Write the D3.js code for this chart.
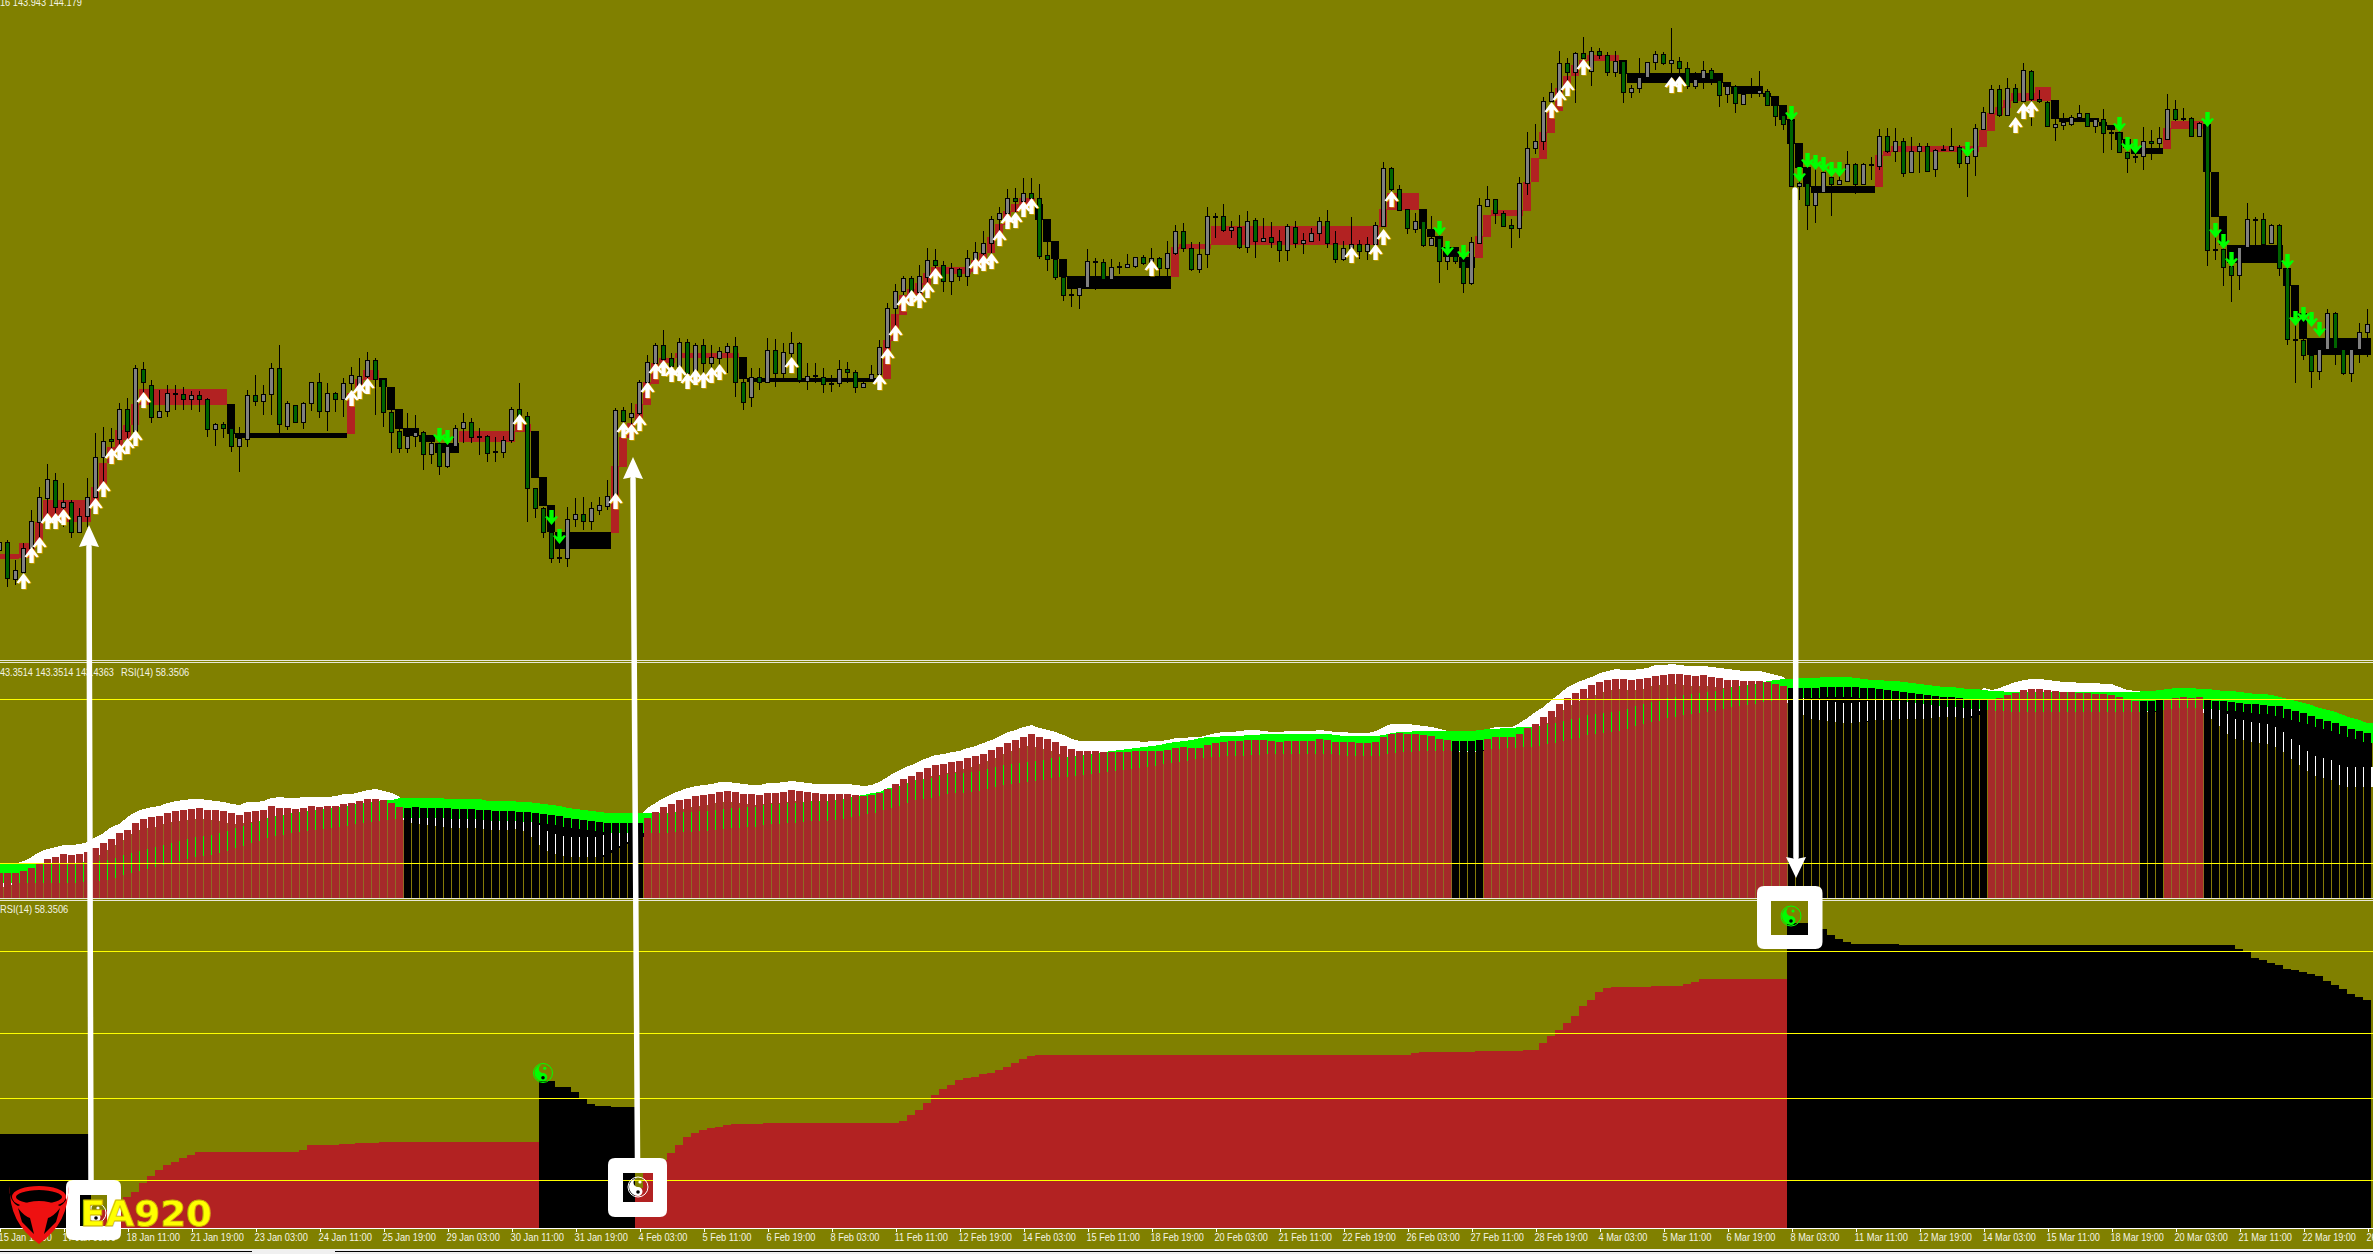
<!DOCTYPE html>
<html><head><meta charset="utf-8">
<script src="https://cdn.jsdelivr.net/npm/d3@7"></script>
<style>html,body{margin:0;padding:0;background:#808000;overflow:hidden}svg{display:block}text{font-family:"Liberation Sans",sans-serif}</style>
</head><body><svg id="c" width="2373" height="1254"></svg>
<script>
// Prices are hundredths above 140.00
const opens=[200,208,171,178,202,228,252,270,243,248,
218,234,253,293,311,311,341,319,381,365,
333,339,357,356,351,355,351,321,326,322,
304,311,355,349,356,382,324,345,328,347,
368,339,357,351,367,365,374,390,371,338,
319,302,314,318,296,307,284,304,322,328,
313,314,299,298,310,341,334,262,242,218,
193,192,231,236,229,240,244,254,340,333,
337,368,387,405,392,384,408,377,405,387,
392,398,404,368,353,373,368,400,377,397,
407,369,375,373,367,367,381,378,363,371,
376,403,442,459,472,458,473,490,485,469,
481,474,491,497,507,531,537,552,549,557,
552,495,491,473,456,455,463,489,488,471,
484,483,484,493,488,492,482,497,519,502,
481,496,534,534,520,523,503,530,509,513,
509,500,523,507,509,517,529,507,491,502,
506,499,506,524,582,561,541,521,529,505,
512,489,494,489,467,507,544,551,537,525,
522,567,602,609,649,658,687,678,697,679,
699,695,678,689,658,662,673,688,696,687,
689,682,664,672,680,670,656,664,646,659,
657,659,645,635,630,564,567,545,558,573,
566,569,586,566,586,584,614,599,609,578,
599,604,581,601,600,603,587,594,621,637,
661,635,662,649,679,651,648,623,625,626,
633,637,624,631,618,618,598,594,594,609,
607,611,641,632,632,614,626,501,501,484,
475,503,531,531,507,525,482,411,410,395,
379,401,437,401,377,401,418];
const closes=[208,172,180,202,229,253,271,243,248,218,
234,253,293,309,309,341,319,382,368,333,
339,357,356,351,355,351,321,326,322,304,
312,355,349,356,382,326,347,328,347,368,
339,357,351,367,375,374,390,371,338,318,
302,314,318,296,307,284,304,322,328,313,
314,297,298,310,341,334,262,242,218,192,
192,231,236,229,242,245,254,340,329,337,
368,388,405,391,384,408,377,405,387,393,
399,404,368,348,373,368,400,377,398,407,
370,374,374,366,366,381,378,363,367,376,
403,442,459,472,458,474,490,485,469,482,
474,492,498,507,531,537,552,549,557,552,
494,491,473,455,455,463,489,488,471,483,
483,486,493,487,492,482,497,519,502,481,
496,534,533,520,523,503,529,509,512,508,
500,524,507,510,517,529,507,491,502,506,
499,506,525,582,561,540,522,529,505,512,
489,494,489,467,508,545,551,537,524,522,
567,602,609,649,658,687,678,697,692,699,
695,678,689,658,662,673,688,696,687,690,
682,664,671,680,671,655,664,647,656,658,
660,645,634,626,564,567,545,558,578,566,
570,586,566,586,585,614,599,609,577,599,
604,579,600,600,604,587,594,622,638,661,
635,662,648,680,651,649,624,626,628,633,
637,624,631,617,617,598,592,593,609,607,
612,641,631,631,614,627,500,500,483,475,
503,531,530,506,525,482,411,410,395,379,
401,437,402,377,401,418,426];
const highs=[210,210,190,207,240,263,286,277,267,250,
242,272,317,323,322,347,352,385,388,370,
360,365,365,363,359,359,352,327,328,323,
323,360,375,365,387,405,349,345,348,368,
377,367,358,372,383,392,398,392,372,340,
340,337,335,319,310,318,310,325,337,332,
322,315,313,314,343,367,338,262,243,220,
217,243,252,253,248,253,270,342,343,347,
370,395,407,420,397,412,411,407,411,405,
403,407,413,372,382,382,412,411,407,418,
408,387,387,382,375,390,388,380,368,385,
410,447,466,474,474,485,502,501,489,487,
482,500,508,519,534,543,561,562,572,572,
566,508,492,475,465,474,501,492,491,491,
488,496,493,495,502,493,509,525,527,508,
508,543,537,546,529,535,539,532,532,528,
520,526,529,517,522,533,540,519,509,533,
510,513,528,588,583,565,541,537,530,534,
518,503,498,497,513,552,564,551,539,531,
573,618,626,653,667,699,692,698,713,703,
702,698,699,689,665,692,688,699,698,722,
693,688,678,689,682,672,668,665,664,672,
679,661,652,637,642,582,594,591,590,585,
583,599,587,587,593,621,622,622,612,613,
607,607,601,605,622,605,602,626,643,665,
665,672,666,687,680,660,649,635,637,635,
645,637,632,641,623,623,602,602,623,620,
623,656,650,642,633,628,635,517,510,492,
503,547,533,537,526,526,487,433,413,403,
405,441,438,402,402,427,441];
const lows=[197,163,165,163,190,203,233,223,223,212,
217,223,240,255,288,293,307,310,353,327,
333,333,340,340,340,338,313,304,312,298,
278,303,344,335,335,317,320,327,321,339,
332,319,338,333,353,350,365,335,323,297,
297,297,303,280,286,275,282,302,307,307,
295,288,288,292,307,323,228,232,212,187,
187,183,223,220,220,235,240,243,320,320,
323,357,373,382,370,370,363,368,370,367,
372,377,353,340,343,360,368,363,372,380,
367,360,367,357,358,363,367,357,362,370,
365,387,413,443,447,447,457,470,458,455,
469,464,480,482,483,510,525,525,538,538,
491,479,470,449,443,441,463,460,470,470,
476,483,482,485,478,473,473,495,498,479,
477,482,512,518,512,501,497,492,508,502,
488,489,502,496,508,509,502,487,489,491,
491,490,494,523,547,539,516,517,503,504,
467,480,486,457,465,506,544,526,523,502,
512,555,596,600,638,648,660,647,680,664,
691,674,673,647,652,657,673,680,685,672,
671,661,661,661,665,643,647,637,645,652,
653,644,624,620,563,550,520,527,557,534,
565,568,556,565,570,580,597,588,573,577,
577,578,573,599,599,582,553,574,620,636,
633,635,647,648,624,647,623,609,620,624,
633,623,617,597,600,597,577,587,580,590,
598,610,629,629,613,613,484,490,464,448,
460,503,505,505,506,474,405,367,390,362,
370,400,385,375,368,387,393];
// Step channel: [first bar, last bar, upper, lower, 1 = bull / 0 = bear]
const bandRuns=[[0,2,196,191,1],[3,4,207,192,1],[5,5,228,207,1],[6,11,250,228,1],[12,12,263,243,1],[13,13,287,263,1],[14,14,303,287,1],[15,15,320,297,1],[16,16,325,310,1],[17,17,346,325,1],[18,28,361,345,1],
[29,29,346,316,0],[30,43,317,312,0],[44,44,357,316,1],[45,45,371,357,1],[46,47,380,370,1],[48,48,372,363,0],[49,49,363,340,0],[50,50,341,321,0],[51,52,322,314,0],[53,54,315,308,0],[55,57,307,297,0],
[58,64,319,308,1],[65,66,326,318,1],[67,67,319,272,0],[68,68,273,244,0],[69,69,245,218,0],[70,76,218,201,0],[77,77,284,217,1],[78,78,313,283,1],[79,79,327,312,1],[80,80,346,327,1],[81,81,368,345,1],[82,82,387,366,1],[83,84,392,387,1],[85,92,397,392,1],
[93,93,393,371,0],[94,110,372,368,0],[111,111,410,371,1],[112,112,436,409,1],[113,113,455,435,1],[114,114,461,448,1],[115,115,467,455,1],[116,116,477,465,1],[117,121,483,476,1],[122,122,490,478,1],[123,123,497,482,1],[124,124,513,497,1],[125,125,526,512,1],[126,126,539,525,1],[127,127,546,538,1],[128,129,552,545,1],
[130,130,546,530,0],[131,131,531,508,0],[132,132,509,491,0],[133,133,491,473,0],[134,146,474,461,0],[147,147,503,473,1],[148,151,506,501,1],[152,172,524,505,1],[173,173,541,523,1],[174,177,557,540,1],
[178,178,541,521,0],[179,179,521,513,0],[180,180,514,503,0],[181,182,503,493,0],[183,184,493,482,0],[185,185,514,492,1],[186,186,535,513,1],[187,190,540,534,1],[191,191,568,539,1],[192,192,592,568,1],[193,193,618,591,1],[194,194,639,617,1],[195,195,662,639,1],[196,196,674,660,1],[197,197,685,674,1],[198,198,690,685,1],[199,202,695,689,1],
[203,203,690,676,0],[204,215,677,667,0],[216,216,668,663,0],[217,220,664,656,0],[221,221,657,653,0],[222,222,654,644,0],[223,223,645,630,0],[224,224,631,606,0],[225,225,607,582,0],[226,226,583,563,0],[227,234,564,557,0],
[235,235,595,563,1],[236,236,599,594,1],[237,247,604,598,1],[248,248,620,603,1],[249,249,637,619,1],[250,250,643,635,1],[251,251,650,642,1],[252,254,657,649,1],[255,256,663,649,1],
[257,257,650,631,0],[258,262,632,628,0],[263,263,628,624,0],[264,264,625,620,0],[265,265,618,610,0],[266,266,611,602,0],[267,270,602,596,0],[271,271,622,601,1],[272,275,629,621,1],
[276,276,626,578,0],[277,277,578,533,0],[278,278,534,505,0],[279,285,505,487,0],[286,286,482,464,0],[287,287,465,433,0],[288,288,437,411,0],[289,296,412,395,0]];
// Arrow signals: bar index and price at the arrow tip
const upArrowBars=[3,4,5,6,7,8,12,13,14,15,16,17,18,44,45,46,65,77,78,79,80,81,82,83,84,85,86,87,88,89,90,99,110,111,112,113,114,115,116,117,122,123,124,125,126,127,128,129,144,169,172,173,174,194,195,196,198,209,210,252,253,254];
const upArrowTips=[177,203,213,237,237,241,252,269,302,306,312,320,358,360,367,372,336,257,328,326,335,368,387,390,384,385,377,381,378,383,386,393,376,402,425,455,460,458,468,482,492,495,497,520,537,538,549,552,490,503,506,521,559,648,660,670,691,673,674,633,647,649];
const downArrowBars=[55,56,69,70,180,181,183,224,225,226,227,228,229,230,246,265,266,267,276,277,278,279,286,287,288,289,290];
const downArrowTips=[307,305,225,206,514,494,490,629,568,582,580,578,573,573,593,618,598,596,623,512,501,483,481,424,428,423,413];
// Oscillator pane, heights above the pane floor
const whiteLine=[30,32,34,37,41,46,49,51,53,53,
54,56,61,65,71,74,81,86,89,91,
92,95,97,98,99,99,98,97,96,94,
93,96,96,97,100,101,100,100,101,101,
101,101,102,104,104,106,108,109,107,105,
101,95,94,93,92,91,90,90,90,90,
89,88,88,88,89,89,86,76,70,65,
63,61,61,61,61,61,65,70,74,78,
81,90,95,100,104,107,110,112,113,114,
116,116,115,114,113,113,115,115,116,117,
116,115,114,114,114,114,114,113,112,113,
116,121,126,130,133,137,140,143,144,146,
147,150,152,155,158,162,166,168,171,173,
170,168,166,163,159,157,157,157,157,157,
157,157,157,156,157,157,158,160,160,161,
161,163,165,166,166,167,168,168,167,166,
166,167,167,167,167,168,167,166,166,165,
165,165,167,171,174,174,174,173,172,171,
169,167,166,166,166,167,169,171,171,171,
175,180,186,191,198,204,211,215,218,221,
225,227,229,228,228,229,230,233,233,234,
233,232,232,232,231,230,229,228,227,227,
227,225,223,221,210,205,201,198,197,196,
195,195,196,196,198,198,198,199,199,199,
199,200,201,201,201,200,200,203,210,208,
210,213,216,218,219,219,218,217,216,216,
215,215,215,214,214,211,208,207,206,206,
208,209,210,210,210,209,202,196,188,181,
178,177,175,175,173,170,163,156,150,145,
140,140,136,131,131,131,131];
const greenLine=[35,35,35,35,35,35,35,35,35,35,
36,37,37,38,39,41,44,46,48,50,
52,54,56,58,60,62,63,64,66,68,
71,73,76,78,81,83,84,86,87,88,
89,90,91,92,93,95,96,97,98,98,
100,100,100,100,100,100,99,99,99,99,
99,97,97,97,97,96,96,95,94,93,
92,90,89,88,87,86,85,85,85,85,
85,85,85,85,86,86,86,87,87,88,
89,90,90,91,91,92,94,94,95,95,
96,97,97,97,98,99,100,102,103,105,
106,110,111,113,116,119,119,121,123,125,
125,126,127,128,130,132,134,135,136,137,
138,139,141,141,142,143,144,145,146,147,
148,149,150,151,152,153,155,156,157,158,
160,161,161,162,162,162,163,163,164,164,
164,164,164,164,164,164,164,163,162,162,
162,162,162,163,165,166,166,167,167,167,
167,167,167,167,167,168,169,169,170,170,
171,171,172,173,175,176,178,180,181,184,
185,186,187,188,190,193,195,197,198,201,
202,204,205,206,207,208,210,212,213,214,
215,217,218,219,219,220,220,220,221,221,
221,221,220,219,218,218,217,217,216,215,
214,213,212,211,211,210,209,209,208,207,
207,206,206,206,206,206,206,206,206,206,
206,206,206,206,206,206,206,206,207,207,
208,209,210,210,210,209,209,208,207,207,
206,205,204,204,203,201,199,197,195,193,
190,188,186,183,180,178,175];
const histValues=[25,25,25,27,30,35,39,41,44,43,
44,46,50,55,59,65,68,75,79,81,
82,85,87,88,89,90,88,88,87,85,
83,86,87,88,92,90,90,89,90,92,
91,92,92,94,95,97,99,99,98,95,
91,90,91,90,90,90,90,89,89,89,
88,88,87,87,87,86,86,85,84,83,
82,80,79,78,77,76,75,75,75,75,
75,80,86,91,94,98,99,102,103,104,
106,107,106,104,104,103,105,105,106,108,
107,106,105,104,104,104,104,103,102,103,
105,109,114,119,122,126,130,133,134,136,
137,140,142,144,148,151,155,158,161,164,
161,159,156,152,149,147,147,147,146,146,
146,146,147,147,147,147,148,150,151,150,
150,153,155,156,157,157,158,158,158,157,
156,157,157,157,157,159,158,156,156,156,
155,155,156,161,164,165,164,164,163,162,
159,158,157,157,157,158,159,161,161,161,
164,170,174,181,187,194,200,205,209,213,
216,218,219,219,218,219,220,222,223,224,
224,223,222,223,221,220,218,218,217,217,
217,216,214,212,210,210,210,210,211,211,
211,211,211,210,210,209,208,207,206,205,
204,203,202,201,201,200,199,199,199,199,
200,203,205,208,209,209,208,207,206,206,
205,205,204,204,203,201,198,197,197,197,
198,198,200,201,200,201,198,197,197,196,
195,194,194,193,192,192,189,187,185,182,
179,177,175,172,169,167,165];
const histBearRuns=[[51,80],[182,185],[224,248],[268,270],[276,296]];
const oscLevels=[35,199];
// Lower pane: [first bar, last bar, value]
const areaSteps=[[0,11,94],[12,12,14],[13,13,18],[14,14,22],[15,15,26],[16,16,31],[17,17,36],[18,18,45],[19,19,52],[20,20,58],[21,21,63],[22,22,66],[23,23,70],[24,24,73],[25,37,76],[38,38,78],[39,42,83],[43,44,84],[45,47,85],[48,67,86],
[68,69,147],[70,71,141],[72,72,136],[73,73,129],[74,74,124],[75,76,122],[77,79,121],
[80,80,40],[81,81,55],[82,82,62],[83,83,68],[84,84,75],[85,85,83],[86,86,91],[87,87,95],[88,88,98],[89,89,100],[90,90,101],[91,91,103],[92,95,104],[96,112,105],[113,113,107],[114,114,113],[115,115,118],[116,116,125],[117,117,133],[118,118,139],[119,119,143],[120,120,148],[121,121,150],[122,122,151],[123,123,154],[124,124,155],[125,125,158],[126,126,161],[127,127,165],[128,128,169],[129,129,172],[130,176,173],[177,177,175],[178,184,176],[185,190,177],[191,192,178],[193,193,185],[194,194,192],[195,195,198],[196,196,205],[197,197,212],[198,198,222],[199,199,228],[200,200,236],[201,201,240],[202,206,241],[207,210,242],[211,211,244],[212,212,246],[213,223,249],
[224,226,305],[227,227,304],[228,228,299],[229,229,293],[230,230,289],[231,231,286],[232,237,284],[238,279,283],[280,280,279],[281,281,276],[282,282,270],[283,283,268],[284,284,265],[285,285,263],[286,286,259],[287,287,258],[288,288,256],[289,289,254],[290,290,252],[291,291,247],[292,292,243],[293,293,239],[294,294,234],[295,295,231],[296,296,228]];
const areaBearRuns=[[0,11],[68,79],[224,296]];
const areaLevels=[277,195,130,48];
const tickLabels=["15 Jan 19:00","17 Jan 03:00","18 Jan 11:00","21 Jan 19:00","23 Jan 03:00","24 Jan 11:00","25 Jan 19:00","29 Jan 03:00","30 Jan 11:00","31 Jan 19:00","4 Feb 03:00","5 Feb 11:00","6 Feb 19:00","8 Feb 03:00","11 Feb 11:00","12 Feb 19:00","14 Feb 03:00","15 Feb 11:00","18 Feb 19:00","20 Feb 03:00","21 Feb 11:00","22 Feb 19:00","26 Feb 03:00","27 Feb 11:00","28 Feb 19:00","4 Mar 03:00","5 Mar 11:00","6 Mar 19:00","8 Mar 03:00","11 Mar 11:00","12 Mar 19:00","14 Mar 03:00","15 Mar 11:00","18 Mar 19:00","20 Mar 03:00","21 Mar 11:00","22 Mar 19:00","26 Mar 03:00"];
const tickBars=[0,8,16,24,32,40,48,56,64,72,80,88,96,104,112,120,128,136,144,152,160,168,176,184,192,200,208,216,224,232,240,248,256,264,272,280,288,296];

const OLIVE="#808000",RED="#b22222",BROWN="#a52a2a",LIME="#00ff00",YEL="#ffff00";
const svg=d3.select("#c");
const bars=d3.range(opens.length);
const x=d3.scaleLinear().domain([0,296]).range([-0.5,2367.5]);
const yP=d3.scaleLinear().domain([0,750]).range([750,0]);
const yO=d3.scaleLinear().domain([0,234]).range([898,664]);
const yA=d3.scaleLinear().domain([0,306]).range([1228,922]);
const inRuns=(runs,i)=>runs.some(r=>i>=r[0]&&i<=r[1]);
const LINE_W=20; // ribbon thickness in pane units
const CHAR_W=4.45; // terminal font advance

svg.append("rect").attr("width",2373).attr("height",1254).attr("fill",OLIVE);

// ---- price pane
const gP=svg.append("g");
gP.append("g").attr("shape-rendering","crispEdges").selectAll("rect").data(bandRuns).join("rect")
 .attr("x",d=>x(d[0])-4.5).attr("width",d=>x(d[1])-x(d[0])+8)
 .attr("y",d=>yP(d[2])).attr("height",d=>yP(d[3])-yP(d[2]))
 .attr("fill",d=>d[4]?RED:"#000");
gP.append("g").attr("shape-rendering","crispEdges").attr("stroke","#000").selectAll("line").data(bars).join("line")
 .attr("x1",i=>x(i)).attr("x2",i=>x(i)).attr("y1",i=>yP(highs[i])).attr("y2",i=>yP(lows[i]));
gP.append("g").attr("shape-rendering","crispEdges").attr("stroke","#000").selectAll("rect").data(bars).join("rect")
 .attr("x",i=>x(i)-2).attr("width",4)
 .attr("y",i=>Math.round(yP(Math.max(opens[i],closes[i])))+0.5)
 .attr("height",i=>Math.max(1,Math.round(Math.abs(opens[i]-closes[i]))))
 .attr("fill",i=>closes[i]>opens[i]?"#808080":"#006400");
const upShape="M0,0L7,9.5L5,10.5L2.2,7.5L2.2,16L-2.2,16L-2.2,7.5L-5,10.5L-7,9.5Z";
const dnShape="M0,0L6.5,-8L4.5,-9L2.2,-7L2.2,-15L-2.2,-15L-2.2,-7L-4.5,-9L-6.5,-8Z";
const gArr=gP.append("g");
gArr.selectAll(".us").data(upArrowBars).join("path").attr("class","us").attr("d",upShape).attr("fill","#e8b000")
 .attr("transform",(d,k)=>`translate(${x(d)+1},${yP(upArrowTips[k])+0.5})`);
gArr.selectAll(".u").data(upArrowBars).join("path").attr("class","u").attr("d",upShape).attr("fill","#fff")
 .attr("transform",(d,k)=>`translate(${x(d)},${yP(upArrowTips[k])})`);
gArr.selectAll(".d").data(downArrowBars).join("path").attr("class","d").attr("d",dnShape).attr("fill",LIME)
 .attr("transform",(d,k)=>`translate(${x(d)},${yP(downArrowTips[k])})`);

// ---- separators
svg.append("g").attr("shape-rendering","crispEdges").selectAll("rect").data([660,662,898,900]).join("rect")
 .attr("x",0).attr("width",2373).attr("y",d=>d).attr("height",1).attr("fill","#e8e8d8");

// ---- oscillator pane
const gO=svg.append("g");
const gapX=i=>x(i)+3.5;
const gg=gO.append("g").attr("shape-rendering","crispEdges");
gg.selectAll(".gapBase").data(bars).join("rect").attr("class","gapBase")
 .attr("x",gapX).attr("width",1).attr("y",i=>yO(histValues[i])).attr("height",i=>898-yO(histValues[i]))
 .attr("fill",i=>inRuns(histBearRuns,i)?"#857a08":"#8f6a24");
gg.selectAll(".gapDark").data(bars.filter(i=>inRuns(histBearRuns,i))).join("rect").attr("class","gapDark")
 .attr("x",gapX).attr("width",1).attr("y",i=>yO(histValues[i])).attr("height",i=>Math.max(0,yO(whiteLine[i]-LINE_W)-yO(histValues[i])))
 .attr("fill","#000");
// thick indicator lines run from bar to bar, continuing flat past the last bar
const ribbonAt=vals=>d3.area().x(d=>d.px).y1(d=>yO(d.v)).y0(d=>yO(d.v-LINE_W))(
 bars.map(i=>({px:x(i),v:vals[i]})).concat([{px:2373,v:vals[vals.length-1]}]));
gO.append("path").attr("shape-rendering","crispEdges").attr("fill","#fff").attr("d",ribbonAt(whiteLine));
gO.append("path").attr("shape-rendering","crispEdges").attr("fill",LIME).attr("d",ribbonAt(greenLine));
gO.append("g").attr("shape-rendering","crispEdges").selectAll("rect").data(bars).join("rect")
 .attr("x",i=>x(i)-3.5).attr("width",7).attr("y",i=>yO(histValues[i])).attr("height",i=>898-yO(histValues[i]))
 .attr("fill",i=>inRuns(histBearRuns,i)?"#000":BROWN);
gO.append("g").attr("shape-rendering","crispEdges").selectAll("rect").data(oscLevels).join("rect")
 .attr("x",0).attr("width",2373).attr("y",d=>Math.round(yO(d))).attr("height",1).attr("fill",YEL);

// ---- lower pane
const areaBars=areaSteps.flatMap(s=>d3.range(s[0],s[1]+1).map(i=>({i,v:s[2]})));
const gA=svg.append("g").attr("shape-rendering","crispEdges");
gA.selectAll(".a").data(areaBars).join("rect").attr("class","a")
 .attr("x",d=>x(d.i)-4.5).attr("width",8).attr("y",d=>yA(d.v)).attr("height",d=>1228-yA(d.v))
 .attr("fill",d=>inRuns(areaBearRuns,d.i)?"#000":RED);
gA.selectAll(".l").data(areaLevels).join("rect").attr("class","l")
 .attr("x",0).attr("width",2373).attr("y",d=>Math.round(yA(d))).attr("height",1).attr("fill",YEL);

// ---- time axis
const axis=d3.axisBottom(x).tickValues(tickBars).tickFormat((d,k)=>tickLabels[k]).tickSize(4).tickPadding(1);
const gX=svg.append("g").attr("transform","translate(0,1228)").call(axis);
gX.select(".domain").remove();
gX.selectAll("line").attr("stroke","#fff").attr("shape-rendering","crispEdges");
gX.selectAll("text").attr("fill","#f4f4e4").attr("text-anchor","start").attr("dx",-1.5)
 .style("font-family",'"Liberation Sans",sans-serif').style("font-size","11px")
 .attr("textLength",(d,k)=>tickLabels[k].length*CHAR_W).attr("lengthAdjust","spacingAndGlyphs");
svg.append("rect").attr("x",0).attr("y",1228).attr("width",2373).attr("height",1).attr("fill","#fff").attr("shape-rendering","crispEdges");
svg.append("rect").attr("x",0).attr("y",1249).attr("width",2373).attr("height",5).attr("fill","#f0f0f0");
svg.append("g").attr("shape-rendering","crispEdges").selectAll("rect").data([[0,252],[335,2038]]).join("rect")
 .attr("x",d=>d[0]).attr("width",d=>d[1]).attr("y",1251).attr("height",1).attr("fill","#000");

// ---- pane captions
const captions=[["16 143.943 144.179",0,6],["43.3514 143.3514 143.4363",0,676],["RSI(14) 58.3506",121,676],["RSI(14) 58.3506",0,913]];
svg.append("g").selectAll("text").data(captions).join("text")
 .attr("x",d=>d[1]).attr("y",d=>d[2]).attr("fill","#f4f4e4").style("font-size","11px")
 .attr("textLength",d=>d[0].length*4.55).attr("lengthAdjust","spacingAndGlyphs").text(d=>d[0]);

// ---- annotations
const annotArrows=[
 {x1:91,y1:1180,x2:89,y2:547,tipY:525,up:true},
 {x1:637.5,y1:1158,x2:633,y2:479,tipY:457,up:true},
 {x1:1795,y1:190,x2:1796,y2:857,tipY:878,up:false}];
const gN=svg.append("g");
gN.selectAll("line").data(annotArrows).join("line")
 .attr("x1",d=>d.x1).attr("y1",d=>d.y1).attr("x2",d=>d.x2).attr("y2",d=>d.y2)
 .attr("stroke","#fff").attr("stroke-width",5.5).attr("stroke-linecap","round");
gN.selectAll("path").data(annotArrows).join("path").attr("fill","#fff")
 .attr("d",d=>`M${d.x2},${d.tipY}L${d.x2+10},${d.y2}L${d.x2},${d.y2+(d.up?-2:2)}L${d.x2-10},${d.y2}Z`);

const frames=[
 {x:66,y:1180,w:55,h:60,ix:80,iy:1195,iw:27,ih:31},
 {x:608,y:1158,w:59,h:59,ix:623,iy:1173,iw:30,ih:29},
 {x:1757,y:886,w:65.5,h:63,ix:1771,iy:901,iw:37,ih:34}];
svg.append("g").selectAll("path").data(frames).join("path").attr("fill","#fff").attr("fill-rule","evenodd")
 .attr("d",f=>{const r=7,{x:a,y:b,w,h}=f;
  return `M${a+r},${b}H${a+w-r}Q${a+w},${b} ${a+w},${b+r}V${b+h-r}Q${a+w},${b+h} ${a+w-r},${b+h}H${a+r}Q${a},${b+h} ${a},${b+h-r}V${b+r}Q${a},${b} ${a+r},${b}Z`+
  `M${f.ix},${f.iy}H${f.ix+f.iw}V${f.iy+f.ih}H${f.ix}Z`;});

const taiji=(cx,cy,r,c,d)=>{
 const g=svg.append("g").attr("transform",`translate(${cx},${cy})`);
 g.append("circle").attr("r",r).attr("fill","none").attr("stroke",c).attr("stroke-width",1);
 g.append("path").attr("fill",c).attr("d",`M0,${-r+1}A${r-1},${r-1} 0 0 0 0,${r-1}A${(r-1)/2},${(r-1)/2} 0 0 0 0,0A${(r-1)/2},${(r-1)/2} 0 0 1 0,${-r+1}Z`);
 g.append("circle").attr("cx",0).attr("cy",r/2).attr("r",1.8).attr("fill",d);
 g.append("circle").attr("cx",r/2-3).attr("cy",-r/2).attr("r",1.6).attr("fill",c);
};
taiji(96,1213,10,"#fff","#000");
taiji(638,1187,10,"#fff","#000");
taiji(1791,916,10,LIME,"#000");
taiji(543,1073,9.5,LIME,"#000");

// ---- logo
const gL=svg.append("g");
gL.append("path").attr("fill","#ee1111").attr("d","M10,1186Q8,1222 39,1244Q70,1222 68,1186Q70,1200 60,1206Q39,1196 18,1206Q8,1200 10,1186Z");
gL.append("ellipse").attr("cx",39).attr("cy",1197).attr("rx",25).attr("ry",9).attr("fill","none").attr("stroke","#f01010").attr("stroke-width",4);
gL.append("path").attr("fill","#000").attr("d","M18,1208Q24,1216 30,1218L34,1234L22,1222Z");
gL.append("path").attr("fill","#000").attr("d","M60,1208Q54,1216 48,1218L44,1234L56,1222Z");
svg.append("text").attr("x",80).attr("y",1226).attr("fill",YEL).attr("textLength",132).attr("lengthAdjust","spacingAndGlyphs")
 .attr("stroke","#c8b400").attr("stroke-width",0.8)
 .style("font-family",'"DejaVu Sans",sans-serif').style("font-weight","bold").style("font-size","36px").text("EA920");
</script></body></html>
